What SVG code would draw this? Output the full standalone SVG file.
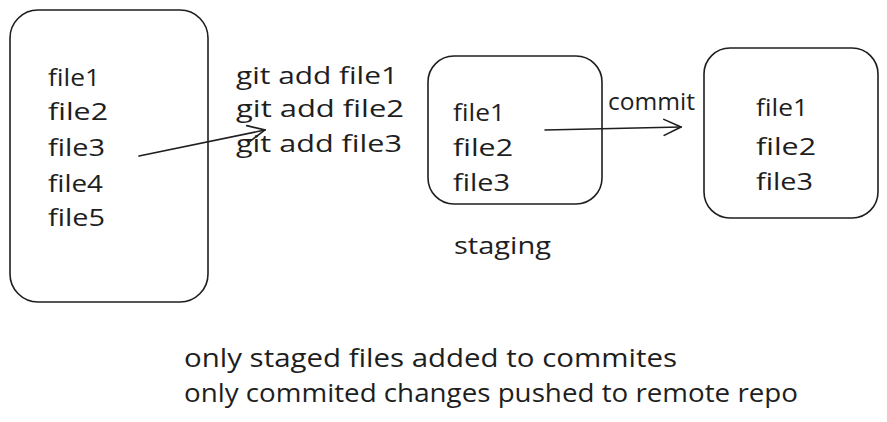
<svg xmlns="http://www.w3.org/2000/svg" width="887" height="422" viewBox="0 0 887 422">
<defs>
<style>
.box{fill:none;stroke:#1e1e1e;stroke-width:1.6}
.t{font-family:"Open Sans","Liberation Sans",sans-serif;font-size:24px;fill:#1e1e1e}
.b{font-family:"Open Sans","Liberation Sans",sans-serif;font-size:25px;fill:#1e1e1e}
.c{fill:none;stroke:#1e1e1e;stroke-width:1.6;stroke-linecap:round}
</style>
<marker id="ah" viewBox="0 0 20 20" refX="19" refY="10" markerWidth="20" markerHeight="20" markerUnits="userSpaceOnUse" orient="auto">
<path d="M2,2 L19,10 L2,18" fill="none" stroke="#1e1e1e" stroke-width="1.6" stroke-linecap="round"/>
</marker>
</defs>
<rect width="887" height="422" fill="#ffffff"/>
<g id="working">
<rect class="box" x="10" y="10" width="198" height="292" rx="28"/>
<text class="t" x="48" y="86" textLength="52" lengthAdjust="spacingAndGlyphs">file1</text>
<text class="t" x="48" y="120" textLength="60" lengthAdjust="spacingAndGlyphs">file2</text>
<text class="t" x="48" y="156" textLength="57" lengthAdjust="spacingAndGlyphs">file3</text>
<text class="t" x="48" y="192" textLength="55" lengthAdjust="spacingAndGlyphs">file4</text>
<text class="t" x="48" y="226" textLength="57" lengthAdjust="spacingAndGlyphs">file5</text>
</g>
<g id="gitadd">
<text class="t" x="236" y="84" textLength="162" lengthAdjust="spacingAndGlyphs">git add file1</text>
<text class="t" x="236" y="117" textLength="168" lengthAdjust="spacingAndGlyphs">git add file2</text>
<text class="t" x="236" y="152" textLength="166" lengthAdjust="spacingAndGlyphs">git add file3</text>
</g>
<g id="staging">
<rect class="box" x="428" y="56" width="174" height="148" rx="26"/>
<text class="t" x="453" y="121" textLength="52" lengthAdjust="spacingAndGlyphs">file1</text>
<text class="t" x="453" y="156" textLength="60" lengthAdjust="spacingAndGlyphs">file2</text>
<text class="t" x="453" y="191" textLength="57" lengthAdjust="spacingAndGlyphs">file3</text>
<text class="t" x="454" y="254" textLength="97" lengthAdjust="spacingAndGlyphs">staging</text>
</g>
<g id="commitlabel">
<text class="t" x="608" y="110" textLength="87" lengthAdjust="spacingAndGlyphs">commit</text>
</g>
<g id="repo">
<rect class="box" x="704" y="48" width="174" height="170" rx="26"/>
<text class="t" x="756" y="116" textLength="52" lengthAdjust="spacingAndGlyphs">file1</text>
<text class="t" x="756" y="155" textLength="60" lengthAdjust="spacingAndGlyphs">file2</text>
<text class="t" x="756" y="190" textLength="57" lengthAdjust="spacingAndGlyphs">file3</text>
</g>
<g id="note">
<text class="b" x="184" y="367" textLength="493" lengthAdjust="spacingAndGlyphs">only staged files added to commites</text>
<text class="b" x="184" y="402" textLength="614" lengthAdjust="spacingAndGlyphs">only commited changes pushed to remote repo</text>
</g>
<g id="connectors">
<path class="c" d="M139,156 L265,130" marker-end="url(#ah)"/>
<path class="c" d="M545,130 L681,127" marker-end="url(#ah)"/>
</g>
</svg>
